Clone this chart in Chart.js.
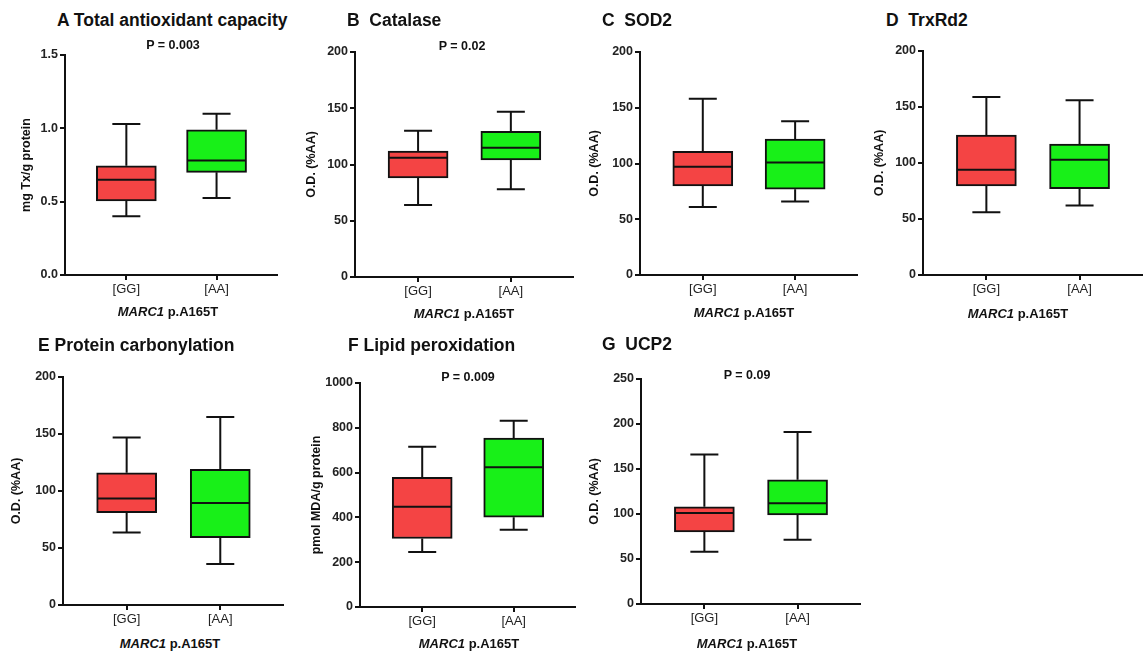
<!DOCTYPE html>
<html>
<head>
<meta charset="utf-8">
<script src="https://cdn.jsdelivr.net/npm/chart.js@4/dist/chart.umd.min.js"></script>
<style>
  body { margin: 0; background: #fff; font-family: "Liberation Sans", Arial, sans-serif; }
  #page { position: relative; width: 1146px; height: 651px; overflow: hidden; }
  canvas { position: absolute; }
  .ttl { position: absolute; font-weight: bold; font-size: 17.5px; white-space: pre; color: #111; transform: translateY(-50%); }
  .pv { position: absolute; font-weight: bold; font-size: 12.5px; color: #111; transform: translate(-50%, -50%); white-space: pre; }
  .xt { position: absolute; font-weight: bold; font-size: 13px; color: #111; transform: translate(-50%, -50%); white-space: pre; }
</style>
</head>
<body>
<div id="page"></div>
<script>
// groups on the x axis
const groups = ["[GG]", "[AA]"];
const groupPos = [1, 2];

// [min, q1, median, q3, max] for [GG], [AA]
const boxA = [[0.40, 0.505, 0.65, 0.745, 1.03], [0.525, 0.70, 0.78, 0.99, 1.10]];
const boxB = [[64, 88, 106, 112, 130], [78, 104, 115, 129.5, 147]];
const boxC = [[61, 80, 97, 111, 158], [66, 77, 101, 122, 138]];
const boxD = [[56, 79.5, 94, 125, 159], [62, 77, 103, 117, 156]];
const boxE = [[63.5, 81, 93.5, 116, 147], [36, 59, 89.5, 119, 165]];
const boxF = [[246, 306, 448, 579, 715], [345, 401, 624, 754, 831]];
const boxG = [[58, 80, 101, 108, 166], [71.5, 99, 112, 138, 191]];

// y tick labels
const ticksA = [0, 0.5, 1.0, 1.5];
const ticks200 = [0, 50, 100, 150, 200];
const ticksF = [0, 200, 400, 600, 800, 1000];
const ticksG = [0, 50, 100, 150, 200, 250];

const titles = ["A Total antioxidant capacity", "B  Catalase", "C  SOD2", "D  TrxRd2",
                "E Protein carbonylation", "F Lipid peroxidation", "G  UCP2"];
const pValues = ["P = 0.003", "P = 0.02", "", "", "", "P = 0.009", "P = 0.09"];
const yTitles = ["mg Tx/g protein", "O.D. (%AA)", "O.D. (%AA)", "O.D. (%AA)",
                 "O.D. (%AA)", "pmol MDA/g protein", "O.D. (%AA)"];

const fillColors = ["#f44444", "#18f018"];
const FONT = "'Liberation Sans', Arial, sans-serif";

// layout: y axis x, x axis right end, top tick y, zero y, title pos, p pos, x title pos
const panels = [
  { box: boxA, ticks: ticksA, dec: 1, ax: 65,  right: 277,  top: 55,  zero: 275, yPad: 14, tx: 57,  ty: 20,  px: 173, py: 45,  xx: 168,  xy: 311 },
  { box: boxB, ticks: ticks200, dec: 0, ax: 355, right: 573, top: 52, zero: 277, yPad: 9, tx: 347, ty: 20, px: 462, py: 46, xx: 464, xy: 313 },
  { box: boxC, ticks: ticks200, dec: 0, ax: 640, right: 857, top: 52, zero: 275, yPad: 7, tx: 602, ty: 20, px: 0, py: 0, xx: 744, xy: 312 },
  { box: boxD, ticks: ticks200, dec: 0, ax: 923, right: 1142, top: 51, zero: 275, yPad: 9, tx: 886, ty: 20, px: 0, py: 0, xx: 1018, xy: 313 },
  { box: boxE, ticks: ticks200, dec: 0, ax: 63, right: 283, top: 377, zero: 605, yPad: 6, tx: 38, ty: 345, px: 0, py: 0, xx: 170, xy: 643 },
  { box: boxF, ticks: ticksF, dec: 0, ax: 360, right: 575, top: 383, zero: 607, yPad: 9, tx: 348, ty: 345, px: 468, py: 377, xx: 469, xy: 643 },
  { box: boxG, ticks: ticksG, dec: 0, ax: 641, right: 860, top: 379, zero: 604, yPad: 6, tx: 602, ty: 344, px: 747, py: 375, xx: 747, xy: 643 }
];

const page = document.getElementById("page");

function addText(cls, text, x, y) {
  const d = document.createElement("div");
  d.className = cls;
  d.style.left = x + "px";
  d.style.top = y + "px";
  d.innerHTML = text;
  page.appendChild(d);
}

// whiskers, caps and median line drawn through the chart scales
const whiskerPlugin = {
  id: "whiskers",
  afterDatasetsDraw(chart) {
    const box = chart.options.plugins.whiskers.box;
    const xs = chart.scales.x, ys = chart.scales.y;
    const ctx = chart.ctx;
    ctx.save();
    ctx.strokeStyle = "#111";
    ctx.lineWidth = 2;
    box.forEach((b, i) => {
      const cx = xs.getPixelForValue(groupPos[i]);
      const [mn, q1, md, q3, mx] = b.map(v => ys.getPixelForValue(v));
      ctx.beginPath();
      ctx.moveTo(cx, q3); ctx.lineTo(cx, mx);
      ctx.moveTo(cx - 14, mx); ctx.lineTo(cx + 14, mx);
      ctx.moveTo(cx, q1); ctx.lineTo(cx, mn);
      ctx.moveTo(cx - 14, mn); ctx.lineTo(cx + 14, mn);
      ctx.moveTo(cx - 29, md); ctx.lineTo(cx + 29, md);
      ctx.stroke();
    });
    ctx.restore();
  }
};

panels.forEach((p, k) => {
  const cv = document.createElement("canvas");
  const w = (p.right - p.ax) + 66;
  const h = (p.zero - p.top) + 45;
  cv.style.left = (p.ax - 60) + "px";
  cv.style.top = (p.top - 15) + "px";
  cv.style.width = w + "px";
  cv.style.height = h + "px";
  cv.width = w; cv.height = h;
  page.appendChild(cv);

  new Chart(cv, {
    type: "bar",
    data: {
      datasets: [{
        data: p.box.map((b, i) => ({ x: groupPos[i], y: [b[1], b[3]] })),
        backgroundColor: fillColors,
        borderColor: "#111",
        borderWidth: 2,
        borderSkipped: false,
        barThickness: 60
      }]
    },
    options: {
      responsive: false,
      animation: false,
      layout: { padding: { top: 15, right: 6, left: 0, bottom: 0 } },
      plugins: {
        legend: { display: false },
        tooltip: { enabled: false },
        whiskers: { box: p.box }
      },
      scales: {
        x: {
          type: "linear",
          min: 0.32,
          max: 2.67,
          offset: false,
          afterBuildTicks: (s) => { s.ticks = groupPos.map(v => ({ value: v })); },
          afterFit: (s) => { s.height = 30; },
          ticks: {
            callback: (v) => groups[groupPos.indexOf(v)],
            color: "#222",
            font: { family: FONT, size: 13 },
            padding: 2,
            maxRotation: 0
          },
          grid: { offset: false, drawOnChartArea: false, drawTicks: true, tickLength: 5, color: "#111", lineWidth: 2 },
          border: { display: true, color: "#111", width: 2 }
        },
        y: {
          min: 0,
          max: p.ticks[p.ticks.length - 1],
          afterBuildTicks: (s) => { s.ticks = p.ticks.map(v => ({ value: v })); },
          afterFit: (s) => { s.width = 60; },
          ticks: {
            callback: (v) => v.toFixed(p.dec),
            color: "#222",
            font: { family: FONT, size: 12.5, weight: "bold" },
            padding: 2
          },
          grid: { drawOnChartArea: false, drawTicks: true, tickLength: 5, color: "#111", lineWidth: 2 },
          border: { display: true, color: "#111", width: 2 },
          title: {
            display: true,
            text: yTitles[k],
            color: "#111",
            font: { family: FONT, size: 12.5, weight: "bold" },
            padding: { top: p.yPad, bottom: 0 }
          }
        }
      }
    },
    plugins: [whiskerPlugin]
  });

  addText("ttl", titles[k], p.tx, p.ty);
  if (pValues[k]) addText("pv", pValues[k], p.px, p.py);
  addText("xt", "<i>MARC1</i> p.A165T", p.xx, p.xy);
});
</script>
</body>
</html>
